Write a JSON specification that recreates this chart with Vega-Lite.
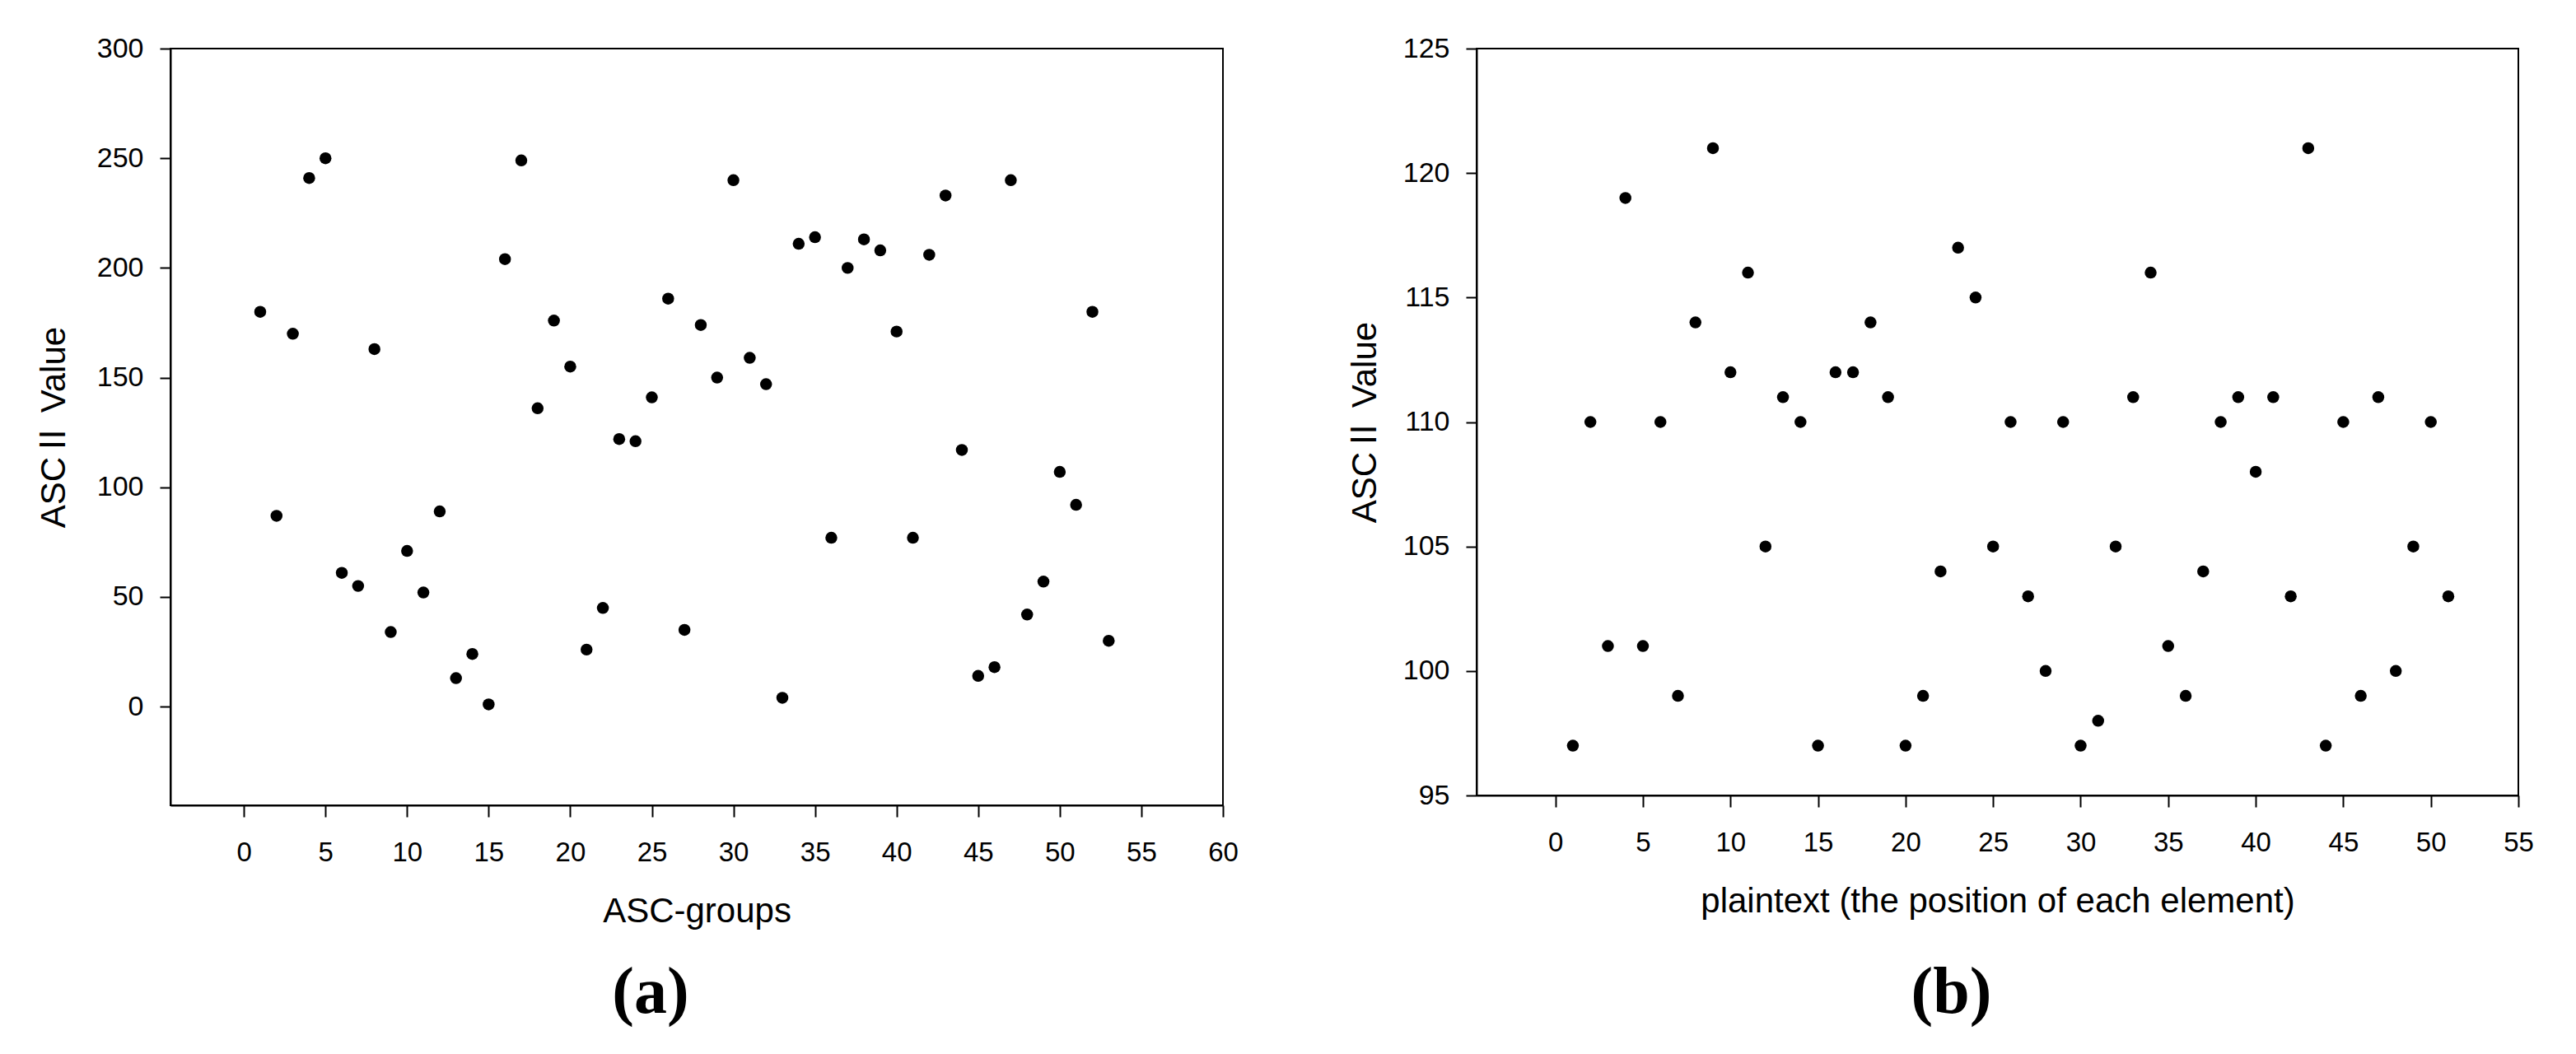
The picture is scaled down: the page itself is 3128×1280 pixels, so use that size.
{
  "$schema": "https://vega.github.io/schema/vega-lite/v6.json",
  "background": "white",
  "padding": {"left": 43, "top": 41, "right": 5, "bottom": 5},
  "spacing": 130,
  "datasets": {
    "groups": [
      {"group": 1, "ascii": 180}, {"group": 2, "ascii": 87}, {"group": 3, "ascii": 170}, {"group": 4, "ascii": 241},
      {"group": 5, "ascii": 250}, {"group": 6, "ascii": 61}, {"group": 7, "ascii": 55}, {"group": 8, "ascii": 163},
      {"group": 9, "ascii": 34}, {"group": 10, "ascii": 71}, {"group": 11, "ascii": 52}, {"group": 12, "ascii": 89},
      {"group": 13, "ascii": 13}, {"group": 14, "ascii": 24}, {"group": 15, "ascii": 1}, {"group": 16, "ascii": 204},
      {"group": 17, "ascii": 249}, {"group": 18, "ascii": 136}, {"group": 19, "ascii": 176}, {"group": 20, "ascii": 155},
      {"group": 21, "ascii": 26}, {"group": 22, "ascii": 45}, {"group": 23, "ascii": 122}, {"group": 24, "ascii": 121},
      {"group": 25, "ascii": 141}, {"group": 26, "ascii": 186}, {"group": 27, "ascii": 35}, {"group": 28, "ascii": 174},
      {"group": 29, "ascii": 150}, {"group": 30, "ascii": 240}, {"group": 31, "ascii": 159}, {"group": 32, "ascii": 147},
      {"group": 33, "ascii": 4}, {"group": 34, "ascii": 211}, {"group": 35, "ascii": 214}, {"group": 36, "ascii": 77},
      {"group": 37, "ascii": 200}, {"group": 38, "ascii": 213}, {"group": 39, "ascii": 208}, {"group": 40, "ascii": 171},
      {"group": 41, "ascii": 77}, {"group": 42, "ascii": 206}, {"group": 43, "ascii": 233}, {"group": 44, "ascii": 117},
      {"group": 45, "ascii": 14}, {"group": 46, "ascii": 18}, {"group": 47, "ascii": 240}, {"group": 48, "ascii": 42},
      {"group": 49, "ascii": 57}, {"group": 50, "ascii": 107}, {"group": 51, "ascii": 92}, {"group": 52, "ascii": 180},
      {"group": 53, "ascii": 30}
    ],
    "plaintext": [
      {"position": 1, "ascii": 97}, {"position": 2, "ascii": 110}, {"position": 3, "ascii": 101}, {"position": 4, "ascii": 119},
      {"position": 5, "ascii": 101}, {"position": 6, "ascii": 110}, {"position": 7, "ascii": 99}, {"position": 8, "ascii": 114},
      {"position": 9, "ascii": 121}, {"position": 10, "ascii": 112}, {"position": 11, "ascii": 116}, {"position": 12, "ascii": 105},
      {"position": 13, "ascii": 111}, {"position": 14, "ascii": 110}, {"position": 15, "ascii": 97}, {"position": 16, "ascii": 112},
      {"position": 17, "ascii": 112}, {"position": 18, "ascii": 114}, {"position": 19, "ascii": 111}, {"position": 20, "ascii": 97},
      {"position": 21, "ascii": 99}, {"position": 22, "ascii": 104}, {"position": 23, "ascii": 117}, {"position": 24, "ascii": 115},
      {"position": 25, "ascii": 105}, {"position": 26, "ascii": 110}, {"position": 27, "ascii": 103}, {"position": 28, "ascii": 100},
      {"position": 29, "ascii": 110}, {"position": 30, "ascii": 97}, {"position": 31, "ascii": 98}, {"position": 32, "ascii": 105},
      {"position": 33, "ascii": 111}, {"position": 34, "ascii": 116}, {"position": 35, "ascii": 101}, {"position": 36, "ascii": 99},
      {"position": 37, "ascii": 104}, {"position": 38, "ascii": 110}, {"position": 39, "ascii": 111}, {"position": 40, "ascii": 108},
      {"position": 41, "ascii": 111}, {"position": 42, "ascii": 103}, {"position": 43, "ascii": 121}, {"position": 44, "ascii": 97},
      {"position": 45, "ascii": 110}, {"position": 46, "ascii": 99}, {"position": 47, "ascii": 111}, {"position": 48, "ascii": 100},
      {"position": 49, "ascii": 105}, {"position": 50, "ascii": 110}, {"position": 51, "ascii": 103}
    ]
  },
  "config": {
    "font": "Liberation Sans",
    "view": {"stroke": "black", "strokeWidth": 2},
    "axis": {
      "grid": false,
      "domainColor": "black",
      "domainWidth": 2,
      "tickColor": "black",
      "tickWidth": 2,
      "labelColor": "black",
      "titleColor": "black",
      "labelFont": "Liberation Sans",
      "titleFont": "Liberation Sans, Noto Sans CJK SC",
      "titleFontWeight": "normal",
      "titleFontSize": 42,
      "labelFlush": false,
      "labelOverlap": false,
      "labelBound": false
    },
    "title": {
      "font": "Liberation Serif",
      "fontWeight": "bold",
      "fontSize": 80,
      "color": "black",
      "orient": "bottom",
      "anchor": "middle"
    }
  },
  "hconcat": [
    {
      "width": 1278,
      "height": 919,
      "title": {"text": "(a)", "orient": "bottom", "anchor": "middle", "offset": 40, "dx": -56},
      "data": {"name": "groups"},
      "mark": {"type": "point", "filled": true, "shape": "circle", "color": "black", "size": 210, "opacity": 1},
      "encoding": {
        "x": {
          "field": "group", "type": "quantitative",
          "scale": {"domain": [-4.5, 60], "nice": false, "zero": false},
          "axis": {"title": "ASC-groups", "values": [0, 5, 10, 15, 20, 25, 30, 35, 40, 45, 50, 55, 60],
                   "tickSize": 14, "labelFontSize": 33, "labelPadding": 27,
                   "titleY": 141, "titleBaseline": "alphabetic"}
        },
        "y": {
          "field": "ascii", "type": "quantitative",
          "scale": {"domain": [-45, 300], "nice": false, "zero": false},
          "axis": {"title": "ASCⅡ Value", "values": [0, 50, 100, 150, 200, 250, 300],
                   "tickSize": 13, "labelFontSize": 34, "labelPadding": 20,
                   "titleX": -129, "titleBaseline": "alphabetic"}
        }
      }
    },
    {
      "width": 1265,
      "height": 907,
      "title": {"text": "(b)", "orient": "bottom", "anchor": "middle", "offset": 52, "dx": -56},
      "data": {"name": "plaintext"},
      "mark": {"type": "point", "filled": true, "shape": "circle", "color": "black", "size": 210, "opacity": 1},
      "encoding": {
        "x": {
          "field": "position", "type": "quantitative",
          "scale": {"domain": [-4.5, 55], "nice": false, "zero": false},
          "axis": {"title": "plaintext (the position of each element)", "values": [0, 5, 10, 15, 20, 25, 30, 35, 40, 45, 50, 55],
                   "tickSize": 14, "labelFontSize": 33, "labelPadding": 27,
                   "titleY": 141, "titleBaseline": "alphabetic"}
        },
        "y": {
          "field": "ascii", "type": "quantitative",
          "scale": {"domain": [95, 125], "nice": false, "zero": false},
          "axis": {"title": "ASCⅡ Value", "values": [95, 100, 105, 110, 115, 120, 125],
                   "tickSize": 13, "labelFontSize": 34, "labelPadding": 20,
                   "titleX": -123, "titleBaseline": "alphabetic"}
        }
      }
    }
  ]
}
